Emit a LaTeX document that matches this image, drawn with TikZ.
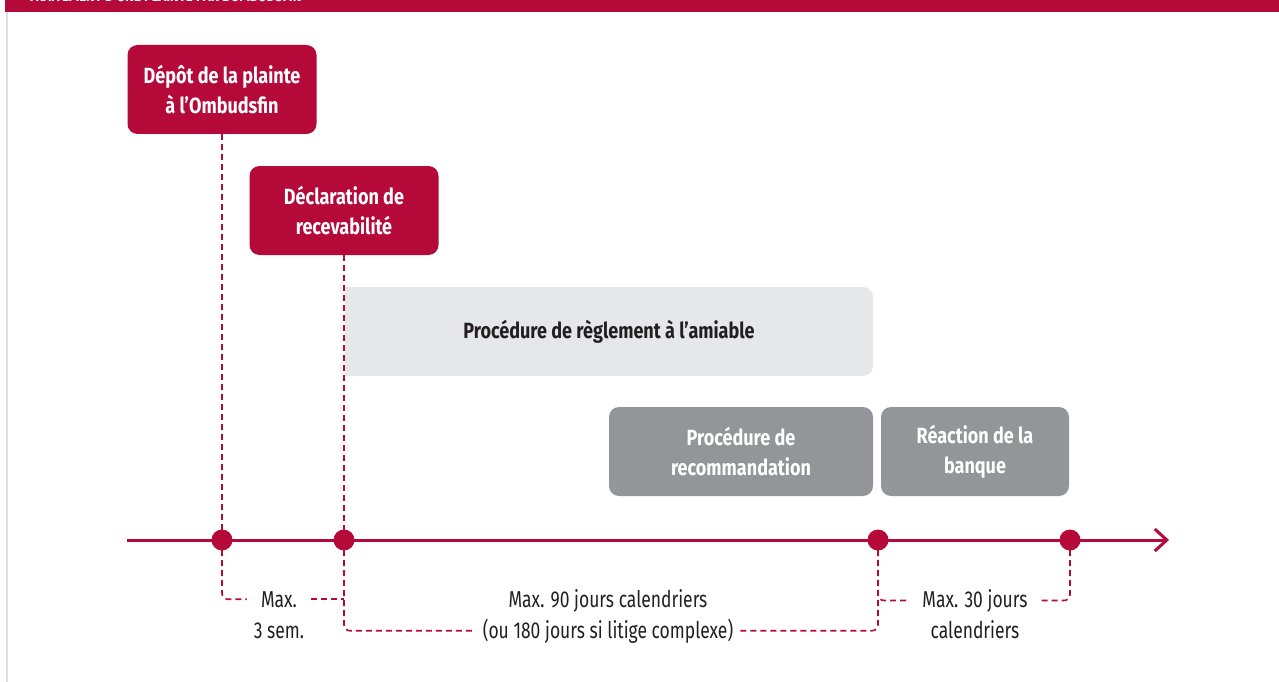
\documentclass[tikz,border=0pt]{standalone}
\usepackage{fontspec}
\setmainfont{Fira Sans}[FakeStretch=0.76]
\newfontfamily\boxfont{Fira Sans}[FakeStretch=0.82]
\usetikzlibrary{arrows.meta}
\definecolor{crim}{RGB}{181,9,58}
\definecolor{lgray}{RGB}{230,231,232}
\definecolor{mgray}{RGB}{147,149,152}
\definecolor{txt}{RGB}{35,31,32}
\definecolor{edgegray}{RGB}{224,224,224}
\begin{document}
\begin{tikzpicture}[x=1pt,y=-1pt,
  box/.style={rounded corners=10pt, minimum height=89pt, align=center,
    font=\boxfont\bfseries\fontsize{22}{30}\selectfont, inner sep=0pt},
  redbox/.style={box, fill=crim, text=white, minimum width=189pt},
  graybox/.style={box, fill=mgray, text=white},
  dot/.style={circle, fill=crim, minimum size=21pt, inner sep=0pt},
  dashline/.style={crim, line width=1.6pt, dash pattern=on 6pt off 4pt, rounded corners=6pt},
  lab/.style={font=\fontsize{23}{31}\selectfont, text=txt, inner ysep=0pt, inner xsep=14pt, anchor=base}
]
\useasboundingbox (0,0) rectangle (1279,682);
\fill[crim] (5,0) rectangle (1279,12);
\fill[edgegray] (6,12) rectangle (8,682);
\node[anchor=base west, text=white, inner sep=0pt,
  font=\boxfont\bfseries\fontsize{16}{16}\selectfont] (title) at (28,2)
  {TRAITEMENT D’UNE PLAINTE PAR L’OMBUDSFIN};

% boxes
\node[redbox] (b1) at (222,89.5) {Dépôt de la plainte\\à l’Ombudsfin};
\node[redbox] (b2) at (344,210.5) {Déclaration de\\recevabilité};
\node[box, fill=lgray, text=txt, minimum width=528pt] (b3) at (609,331.5) {Procédure de règlement à l’amiable};
\fill[lgray] (b3.south west) rectangle ([xshift=20pt]b3.north west);
\node[graybox, minimum width=264pt] (b4) at (741,451.5) {Procédure de\\recommandation};
\node[graybox, minimum width=188pt] (b5) at (975,451.5) {Réaction de la\\banque};

% timeline
\coordinate (ts) at (127,540);
\coordinate (te) at (1169,540);
\draw[crim, line width=3pt, -{Straight Barb[length=12pt,width=22pt]}] (ts) -- (te);

% labels
\node[lab] (l1a) at (279,607) {Max.};
\node[lab] (l1b) at (279,638) {3 sem.};
\node[lab] (l2a) at (608,607) {Max. 90 jours calendriers};
\node[lab, inner xsep=7pt] (l2b) at (608,638) {(ou 180 jours si litige complexe)};
\node[lab] (l3a) at (975,607) {Max. 30 jours};
\node[lab] (l3b) at (975,638) {calendriers};

% dots (positions)
\coordinate (p1) at (222,540);
\coordinate (p2) at (344,540);
\coordinate (p3) at (878,540);
\coordinate (p4) at (1070,540);

% dashed connectors
\draw[dashline] (b1.south) -- (p1);
\draw[dashline] (b2.south) -- (p2);
\draw[dashline] (p1) |- (l1a.west);
\draw[dashline] (l1a.east) -- (l1a.east -| p2);
\draw[dashline] (p2) |- (l2b.west);
\draw[dashline] (l2b.east) -| (p3);
\draw[dashline] (p3) |- (l3a.west);
\draw[dashline] (l3a.east) -| (p4);

\node[dot] (d1) at (p1) {};
\node[dot] (d2) at (p2) {};
\node[dot] (d3) at (p3) {};
\node[dot] (d4) at (p4) {};
\end{tikzpicture}
\end{document}
